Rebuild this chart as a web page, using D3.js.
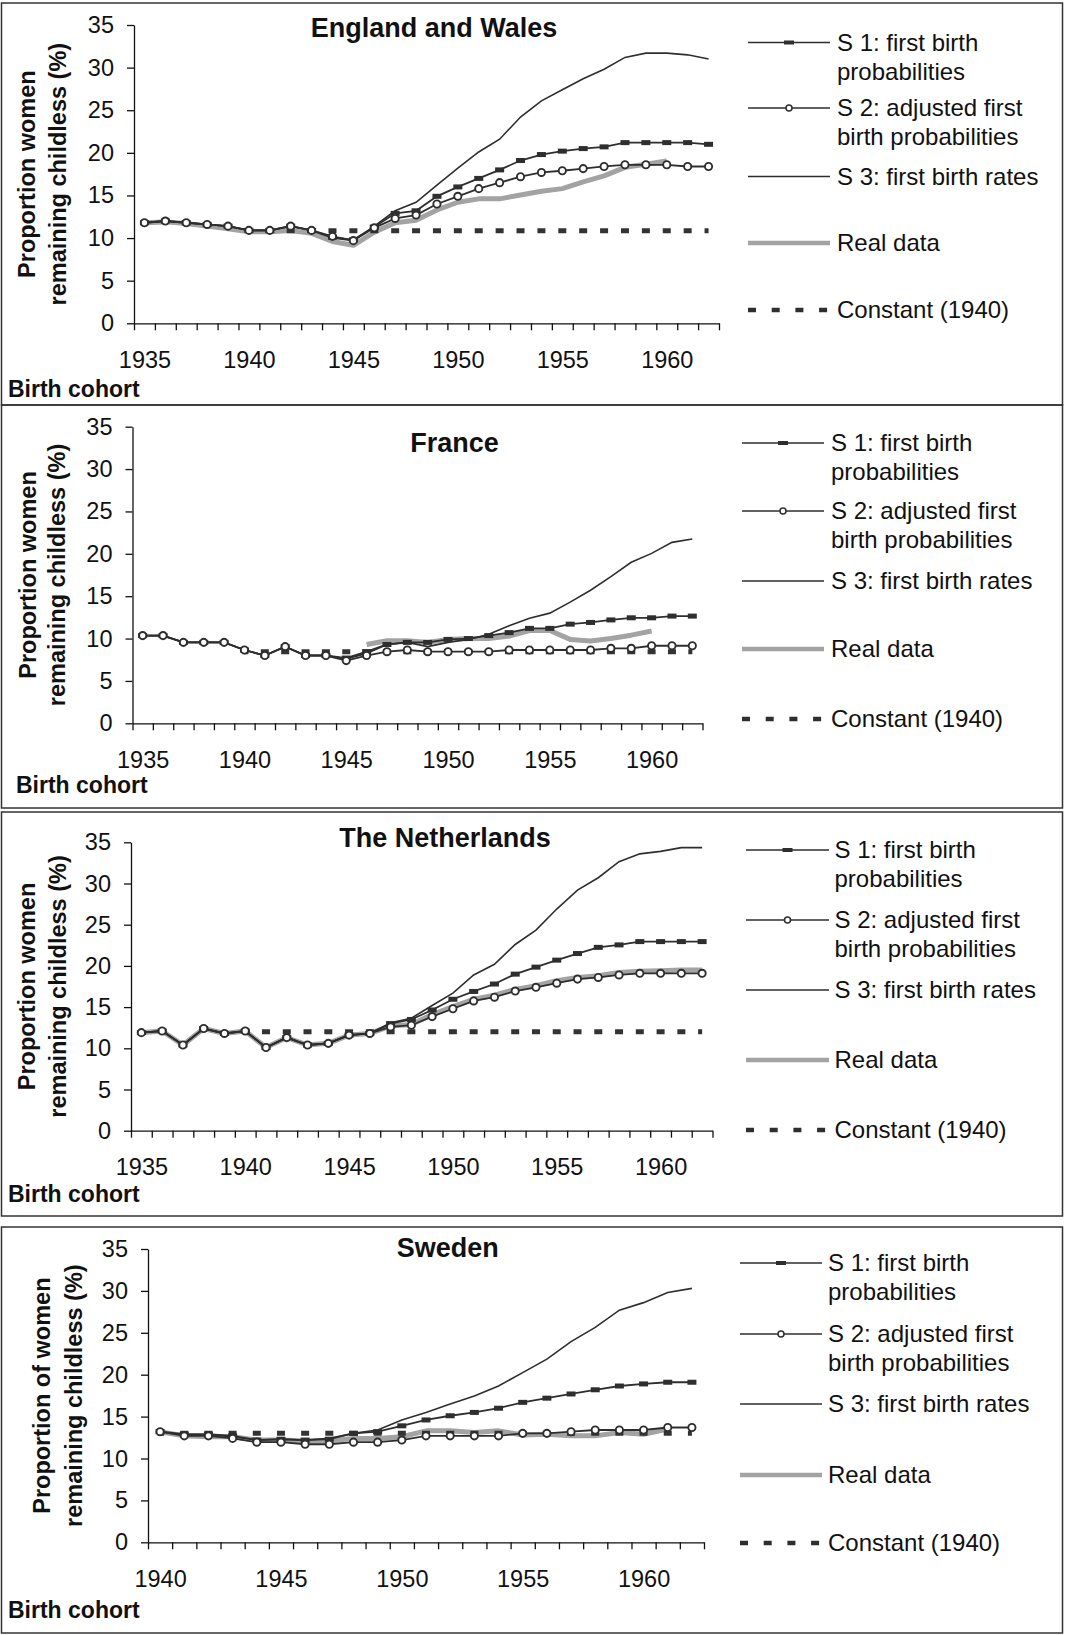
<!DOCTYPE html>
<html>
<head>
<meta charset="utf-8">
<script src="https://cdn.jsdelivr.net/npm/d3@7"></script>
<style>
  body { margin: 0; background: white; }
  text { font-family: "Liberation Sans", Arial, sans-serif; fill: #111; }
</style>
</head>
<body>
<div id="chart"></div>
<script>
// ---- categories ----
let years35 = [1935, 1936, 1937, 1938, 1939, 1940, 1941, 1942, 1943, 1944, 1945, 1946, 1947, 1948,
               1949, 1950, 1951, 1952, 1953, 1954, 1955, 1956, 1957, 1958, 1959, 1960, 1961, 1962];
let years40 = [1940, 1941, 1942, 1943, 1944, 1945, 1946, 1947, 1948, 1949, 1950, 1951,
               1952, 1953, 1954, 1955, 1956, 1957, 1958, 1959, 1960, 1961, 1962];
let labels35 = [1935, 1940, 1945, 1950, 1955, 1960];
let labels40 = [1940, 1945, 1950, 1955, 1960];
let yTicks = [0, 5, 10, 15, 20, 25, 30, 35];

let legendNames = [["S 1: first birth", "probabilities"], ["S 2: adjusted first", "birth probabilities"],
                   ["S 3: first birth rates"], ["Real data"], ["Constant (1940)"]];

// ---- England and Wales (1935-1962) ----
let ewS1 = [11.8, 12.0, 11.8, 11.6, 11.4, 10.9, 10.9, 11.4, 10.9, 10.1, 9.8, 11.3, 12.9, 13.2,
            14.9, 16.0, 17.0, 18.0, 19.1, 19.8, 20.2, 20.5, 20.7, 21.2, 21.2, 21.2, 21.2, 21.0];
let ewS2 = [11.8, 12.0, 11.8, 11.6, 11.4, 10.9, 10.9, 11.4, 10.9, 10.2, 9.7, 11.2, 12.3, 12.7,
            14.0, 14.9, 15.8, 16.5, 17.2, 17.7, 17.9, 18.15, 18.4, 18.6, 18.6, 18.6, 18.4, 18.4];
let ewS3 = [11.8, 12.0, 11.8, 11.6, 11.4, 10.9, 10.9, 11.4, 10.9, 10.0, 9.7, 11.4, 13.2, 14.2,
            16.2, 18.2, 20.1, 21.6, 24.2, 26.1, 27.4, 28.7, 29.8, 31.2, 31.7, 31.7, 31.5, 31.0];
let ewReal = [11.8, 11.9, 11.7, 11.4, 11.1, 10.75, 10.75, 10.9, 10.55, 9.6, 9.15, 10.7, 11.8, 12.1,
              13.3, 14.2, 14.6, 14.6, 15.05, 15.5, 15.8, 16.6, 17.3, 18.3, 18.65, 19.05, null, null];
let ewConst = 10.85;

// ---- France (1935-1962) ----
let frS1 = [10.35, 10.35, 9.55, 9.55, 9.55, 8.65, 8.0, 9.05, 8.0, 8.0, 7.7, 8.45, 9.3, 9.55,
            9.55, 9.9, 10.0, 10.35, 10.7, 11.2, 11.2, 11.7, 11.9, 12.2, 12.45, 12.45, 12.65, 12.65];
let frS2 = [10.35, 10.35, 9.55, 9.55, 9.55, 8.65, 8.0, 9.05, 8.0, 8.0, 7.4, 8.0, 8.45, 8.65,
            8.45, 8.45, 8.45, 8.45, 8.65, 8.65, 8.65, 8.65, 8.65, 8.85, 8.85, 9.15, 9.15, 9.15];
let frS3 = [10.35, 10.35, 9.55, 9.55, 9.55, 8.65, 8.0, 9.05, 8.0, 8.0, 7.6, 8.25, 9.3, 9.55,
            9.05, 9.55, 9.9, 10.5, 11.5, 12.4, 13.0, 14.3, 15.7, 17.3, 19.0, 20.05, 21.35, 21.75];
let frReal = [null, null, null, null, null, null, null, null, null, null, null, 9.3, 9.75, 9.75,
              9.55, 9.9, 10.0, 10.0, 10.3, 10.95, 10.95, 9.9, 9.7, 10.0, 10.4, 10.9, null, null];
let frConst = 8.45;

// ---- The Netherlands (1935-1962) ----
let nlS1 = [11.9, 12.1, 10.4, 12.4, 11.8, 12.1, 10.1, 11.3, 10.4, 10.6, 11.6, 11.8, 13.0, 13.5,
            14.65, 15.95, 16.9, 17.8, 19.0, 19.85, 20.7, 21.5, 22.25, 22.55, 22.95, 22.95, 22.95, 22.95];
let nlS2 = [11.9, 12.1, 10.4, 12.4, 11.8, 12.1, 10.1, 11.3, 10.4, 10.6, 11.6, 11.8, 12.6, 12.8,
            13.85, 14.8, 15.75, 16.2, 16.95, 17.4, 17.9, 18.4, 18.6, 18.9, 19.1, 19.1, 19.1, 19.1];
let nlS3 = [11.9, 12.1, 10.4, 12.4, 11.8, 12.1, 10.1, 11.3, 10.4, 10.6, 11.6, 11.8, 13.1, 13.65,
            15.2, 16.7, 18.9, 20.2, 22.6, 24.35, 26.9, 29.2, 30.7, 32.65, 33.6, 33.9, 34.35, 34.35];
let nlReal = [11.9, 12.1, 10.4, 12.4, 11.8, 12.1, 10.1, 11.3, 10.4, 10.6, 11.6, 11.8, 12.7, 12.9,
              14.1, 15.05, 15.95, 16.45, 17.15, 17.6, 18.2, 18.6, 18.8, 19.2, 19.35, 19.4, 19.5, 19.5];
let nlConst = 12.0;

// ---- Sweden (1940-1962) ----
let seS1 = [13.2, 12.9, 12.9, 12.7, 12.2, 12.3, 12.2, 12.3, 13.0, 13.2, 13.9, 14.6, 15.1, 15.5,
            16.0, 16.7, 17.2, 17.7, 18.2, 18.65, 18.9, 19.1, 19.1];
let seS2 = [13.2, 12.7, 12.7, 12.4, 11.95, 11.95, 11.7, 11.7, 11.95, 11.95, 12.2, 12.7, 12.7, 12.7,
            12.7, 13.0, 13.0, 13.2, 13.4, 13.4, 13.4, 13.7, 13.7];
let seS3 = [13.2, 12.8, 12.8, 12.6, 12.2, 12.3, 12.2, 12.4, 13.0, 13.4, 14.6, 15.5, 16.5, 17.45,
            18.65, 20.25, 21.85, 23.95, 25.65, 27.7, 28.6, 29.8, 30.3];
let seReal = [13.2, 12.7, 12.6, 12.6, 12.2, 12.2, 12.1, 12.1, 12.4, 12.4, 12.6, 13.3, 13.3, 13.1,
              13.3, 12.8, 12.9, 12.7, 12.7, 13.1, 12.9, 13.5, null];
let seConst = 13.0;

let panels = [
	{title: "England and Wales", years: years35, labels: labels35, s1: ewS1, s2: ewS2, s3: ewS3, real: ewReal, constant: ewConst,
	 ylab: ["Proportion women", "remaining childless (%)"]},
	{title: "France", years: years35, labels: labels35, s1: frS1, s2: frS2, s3: frS3, real: frReal, constant: frConst,
	 ylab: ["Proportion women", "remaining childless (%)"]},
	{title: "The Netherlands", years: years35, labels: labels35, s1: nlS1, s2: nlS2, s3: nlS3, real: nlReal, constant: nlConst,
	 ylab: ["Proportion women", "remaining childless (%)"]},
	{title: "Sweden", years: years40, labels: labels40, s1: seS1, s2: seS2, s3: seS3, real: seReal, constant: seConst,
	 ylab: ["Proportion of women", "remaining childless (%)"]}
];

// layout of each panel, in page pixels
let layout = [
	{top: 3, bottom: 405, x0: 134, x1: 719, y0: 323.3, y35: 25, titleX: 434, titleY: 28, ylabX: [27, 58], cohortX: 8, cohortY: 397,
	 legX0: 748, legX1: 830, legText: 837, legY: [42.5, 108, 176.5, 243, 310]},
	{top: 405, bottom: 808, x0: 132.5, x1: 702.5, y0: 723.3, y35: 426.7, titleX: 454.5, titleY: 443, ylabX: [28, 57], cohortX: 16, cohortY: 793,
	 legX0: 742, legX1: 824, legText: 831, legY: [443, 511, 581, 649, 719]},
	{top: 812, bottom: 1216, x0: 131, x1: 712.5, y0: 1130.7, y35: 842.3, titleX: 445, titleY: 838, ylabX: [27, 58], cohortX: 8, cohortY: 1202,
	 legX0: 746, legX1: 829, legText: 834.5, legY: [850, 920, 990, 1060, 1130]},
	{top: 1227, bottom: 1633, x0: 148, x1: 704, y0: 1542.3, y35: 1249, titleX: 447.7, titleY: 1248, ylabX: [42, 74], cohortX: 8, cohortY: 1618,
	 legX0: 740, legX1: 822, legText: 828, legY: [1263, 1334, 1404, 1475, 1543]}
];

let dark = "#2e2e2e";
let grey = "#a3a3a3";

let svg = d3.select("#chart")
	.append("svg")
	.attr("width", 1065)
	.attr("height", 1635)
	.style("background-color", "white");

panels.forEach(function(p, i) {
	let L = layout[i];
	let g = svg.append("g");

	g.append("rect")
		.attr("x", 1.5).attr("y", L.top)
		.attr("width", 1061).attr("height", L.bottom - L.top)
		.attr("fill", "none").attr("stroke", "#333").attr("stroke-width", 1.5);

	let first = p.years[0], last = p.years[p.years.length - 1];
	let x = d3.scaleLinear().domain([first - 0.5, last + 0.5]).range([L.x0, L.x1]);
	let y = d3.scaleLinear().domain([0, 35]).range([L.y0, L.y35]);
	let step = x(first + 1) - x(first);

	// y axis
	let ya = g.append("g").attr("transform", "translate(" + L.x0 + ",0)")
		.call(d3.axisLeft(y).tickValues(yTicks).tickSize(7).tickSizeOuter(0).tickPadding(13));
	// x axis: tick marks at category boundaries
	let bounds = p.years.map(function(d){return d - 0.5;}).concat([last + 0.5]);
	let xa = g.append("g").attr("transform", "translate(0," + L.y0 + ")")
		.call(d3.axisBottom(x).tickValues(bounds).tickFormat("").tickSize(7).tickSizeOuter(0));
	let xl = g.append("g").attr("transform", "translate(0," + L.y0 + ")")
		.call(d3.axisBottom(x).tickValues(p.labels).tickFormat(d3.format("d")).tickSize(0).tickPadding(28));
	xl.select(".domain").remove();
	[ya, xa, xl].forEach(function(a){
		a.attr("font-size", 23.5).attr("font-family", "'Liberation Sans', Arial, sans-serif");
		a.selectAll("path, line").attr("stroke", "#111").attr("stroke-width", 1.3);
		a.selectAll("text").attr("fill", "#111");
	});

	// titles
	g.append("text").attr("x", L.titleX).attr("y", L.titleY).attr("dy", "0.35em")
		.attr("text-anchor", "middle").style("font-size", "27px").style("font-weight", "bold").text(p.title);
	g.append("text").attr("x", L.cohortX).attr("y", L.cohortY)
		.style("font-size", "23px").style("font-weight", "bold").text("Birth cohort");
	let yMid = (L.y0 + L.y35) / 2;
	p.ylab.forEach(function(t, k){
		g.append("text").attr("transform", "translate(" + L.ylabX[k] + "," + yMid + ") rotate(-90)")
			.attr("dy", "0.35em").attr("text-anchor", "middle")
			.style("font-size", "23.5px").style("font-weight", "bold").text(t);
	});

	// series
	let line = d3.line().defined(function(d){return d[1] != null;})
		.x(function(d){return x(d[0]);}).y(function(d){return y(d[1]);});
	let pairs = function(vals){ return p.years.map(function(yr, k){return [yr, vals[k]];}); };

	g.append("path").attr("d", line(pairs(p.real)))
		.attr("fill", "none").attr("stroke", grey).attr("stroke-width", 5).attr("stroke-linejoin", "round");

	let constData = p.years.filter(function(yr){return yr >= 1940;}).map(function(yr){return [yr, p.constant];});
	g.append("path").attr("d", line(constData))
		.attr("fill", "none").attr("stroke", "#333").attr("stroke-width", 5)
		.attr("stroke-dasharray", "8," + (step - 8)).attr("stroke-dashoffset", 4);

	g.append("path").attr("d", line(pairs(p.s3)))
		.attr("fill", "none").attr("stroke", dark).attr("stroke-width", 1.6);
	g.append("path").attr("d", line(pairs(p.s1)))
		.attr("fill", "none").attr("stroke", dark).attr("stroke-width", 1.8);
	g.selectAll(".sq").data(pairs(p.s1)).enter().append("rect").classed("sq", true)
		.attr("x", function(d){return x(d[0]) - 4.5;}).attr("y", function(d){return y(d[1]) - 2.5;})
		.attr("width", 9).attr("height", 5).attr("fill", dark);
	g.append("path").attr("d", line(pairs(p.s2)))
		.attr("fill", "none").attr("stroke", dark).attr("stroke-width", 1.8);
	g.selectAll(".ci").data(pairs(p.s2)).enter().append("circle").classed("ci", true)
		.attr("cx", function(d){return x(d[0]);}).attr("cy", function(d){return y(d[1]);})
		.attr("r", 3.6).attr("fill", "white").attr("stroke", dark).attr("stroke-width", 1.9);

	// legend
	let lg = g.selectAll(".leg").data(legendNames).enter().append("g").classed("leg", true)
		.attr("transform", function(d, k){return "translate(0," + L.legY[k] + ")";});
	lg.append("line").attr("x1", L.legX0).attr("x2", L.legX1).attr("y1", 0).attr("y2", 0)
		.attr("stroke", function(d, k){return k == 3 ? grey : dark;})
		.attr("stroke-width", function(d, k){return k == 3 ? 4.5 : (k == 4 ? 4.5 : 1.5);})
		.attr("stroke-dasharray", function(d, k){return k == 4 ? "8,15.7" : null;});
	lg.filter(function(d, k){return k == 0;}).append("rect")
		.attr("x", (L.legX0 + L.legX1) / 2 - 5).attr("y", -2).attr("width", 10).attr("height", 4).attr("fill", dark);
	lg.filter(function(d, k){return k == 1;}).append("circle")
		.attr("cx", (L.legX0 + L.legX1) / 2).attr("cy", 0).attr("r", 3)
		.attr("fill", "white").attr("stroke", dark).attr("stroke-width", 1.5);
	lg.each(function(d){
		let t = d3.select(this);
		d.forEach(function(s, j){
			t.append("text").attr("x", L.legText).attr("y", j * 29).attr("dy", "0.35em")
				.style("font-size", "24px").text(s);
		});
	});
});
</script>
</body>
</html>
